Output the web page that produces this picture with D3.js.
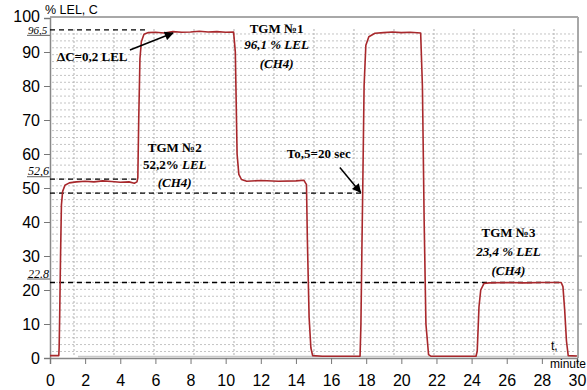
<!DOCTYPE html>
<html><head><meta charset="utf-8">
<script src="https://cdn.jsdelivr.net/npm/d3@7"></script>
<style>body{margin:0;background:#fff}svg{display:block}</style>
</head><body>
<svg id="c" width="587" height="390"></svg>
<script>
// ---- data ----
const curveTime = [0,0.5,0.52,0.55,0.6,0.65,0.72,0.85,1.1,1.5,2,2.5,3,3.5,4,4.5,4.8,4.95,5.0,5.05,5.12,5.2,5.35,5.6,6,6.5,7,7.5,8,8.5,9,9.5,10,10.45,10.55,10.6,10.65,10.75,10.9,11.2,12,13,14,14.45,14.6,14.65,14.75,14.85,14.95,15.5,16.5,17.65,17.7,17.75,17.8,17.88,17.98,18.15,18.5,19,19.5,20,20.5,21.1,21.2,21.3,21.4,21.55,21.7,23,24.25,24.32,24.42,24.52,24.7,25,26,27,28,29.1,29.2,29.3,29.4,29.5,30];
const curveValue = [0.7,0.7,3,12,30,45,49,50.8,51.5,51.8,52,51.8,52.1,51.9,51.7,51.8,51.4,51.8,53,70,88,93,95.2,95.7,95.8,95.6,96.0,95.8,95.9,96.1,95.9,96.0,95.8,95.9,90,75,60,54,52.5,52,52.2,52,52.1,52.3,51,35,12,3,0.7,0.5,0.5,0.5,10,30,48.5,80,92,94.5,95.5,95.7,95.9,95.7,95.8,95.6,80,40,10,1,0.5,0.5,0.5,2,15,20,21.9,22.1,22.2,22.1,22.2,22.2,21,14,5,0.7,0.6];
const xTicks = [0,2,4,6,8,10,12,14,16,18,20,22,24,26,28,30];
const yTicks = [0,10,20,30,40,50,60,70,80,90,100];
const refLevels = [96.5, 52.6, 48.5, 22.2];
const refEnds = [5.5, 5.0, 17.72, 29.2];
const refLabels = ["96,5", "52,6", null, "22.8"];
const yTitle = "% LEL, C";

// ---- scales ----
const svg = d3.select("#c");
const x = d3.scaleLinear().domain([0,30]).range([50,577]);
const y = d3.scaleLinear().domain([0,100]).range([358,18]);

// grid (separate raster grid in the original, offset from the axes)
const gx = d3.range(1.366, 30, 2.277);
const gy = d3.range(95.3, 0, -2.03);
svg.append("g").selectAll("line").data(gy).join("line")
  .attr("x1", 52).attr("x2", 575).attr("y1", d=>y(d)).attr("y2", d=>y(d))
  .attr("stroke", "#c4c4c4").attr("stroke-width", 1).attr("stroke-dasharray", "2,2");
svg.append("g").selectAll("line").data(gx).join("line")
  .attr("y1", 29).attr("y2", 357).attr("x1", d=>x(d)).attr("x2", d=>x(d))
  .attr("stroke", "#b0b0b0").attr("stroke-width", 1).attr("stroke-dasharray", "2,2");
svg.append("line").attr("x1", 78).attr("x2", 576).attr("y1", 356.5).attr("y2", 356.5)
  .attr("stroke", "#c8c8c8").attr("stroke-width", 1.5);

// frame
svg.append("line").attr("x1", x(0)).attr("x2", x(30)+1).attr("y1", y(100)-1).attr("y2", y(100)-1)
  .attr("stroke", "#a8a8a8").attr("stroke-width", 2);
svg.append("line").attr("x1", x(30)+1).attr("x2", x(30)+1).attr("y1", y(100)-1).attr("y2", y(0))
  .attr("stroke", "#a8a8a8").attr("stroke-width", 2);
svg.append("g").selectAll("line").data(yTicks.slice(1,-1)).join("line")
  .attr("x1", x(30)+1).attr("x2", x(30)+5).attr("y1", d=>y(d)).attr("y2", d=>y(d))
  .attr("stroke", "#999");

// axes
const yAxis = d3.axisLeft(y).tickValues(yTicks).tickSize(6).tickPadding(4);
const gY = svg.append("g").attr("transform", `translate(${x(0)},0)`).call(yAxis);
gY.select(".domain").attr("stroke", "#888").attr("stroke-width", 1.5);
gY.selectAll(".tick line").attr("stroke", "#777");
gY.selectAll("text").attr("font-family", "'Liberation Sans', Arial, sans-serif").attr("font-size", 16).attr("fill", "#000");
gY.selectAll(".tick").filter(d => d === 100).select("text").attr("dy", "0.2em");

const xAxis = d3.axisBottom(x).tickValues(xTicks).tickSize(6).tickPadding(11);
const gX = svg.append("g").attr("transform", `translate(0,${y(0)})`).call(xAxis);
gX.select(".domain").attr("stroke", "#888").attr("stroke-width", 1.5);
gX.selectAll(".tick line").attr("stroke", "#777");
gX.selectAll("text").attr("font-family", "'Liberation Sans', Arial, sans-serif").attr("font-size", 16).attr("fill", "#000");

// reference dashed lines
const labelShift = [4, -4, 0, -5];
refLevels.forEach((v,i) => {
  svg.append("line").attr("x1", x(0)).attr("x2", x(refEnds[i]))
    .attr("y1", y(v)).attr("y2", y(v))
    .attr("stroke", "#000").attr("stroke-width", 1.4).attr("stroke-dasharray", "5,4");
  if (refLabels[i]) {
    svg.append("text").attr("x", 28).attr("y", y(v)+labelShift[i])
      .attr("font-family", "'Liberation Serif', 'Times New Roman', serif")
      .attr("font-style", "italic").attr("font-size", i === 0 ? 11 : 12).text(refLabels[i]);
    svg.append("line").attr("x1", 27).attr("x2", x(0)).attr("y1", y(v)+labelShift[i]+1.5).attr("y2", y(v)+labelShift[i]+1.5)
      .attr("stroke", "#777").attr("stroke-width", 1.2);
  }
});

// curve
const line = d3.line().x((d,i)=>x(curveTime[i])).y(d=>y(d));
svg.append("path").datum(curveValue).attr("d", line)
  .attr("fill", "none").attr("stroke", "#a8282c").attr("stroke-width", 1.6).attr("stroke-linejoin", "round");

// labels
svg.append("text").attr("x", 45).attr("y", 14)
  .attr("font-family", "'Liberation Sans', Arial, sans-serif").attr("font-size", 12.5).text(yTitle);
svg.append("text").attr("x", 551).attr("y", 350)
  .attr("font-family", "'Liberation Sans', Arial, sans-serif").attr("font-size", 12).text("t,");
svg.append("text").attr("x", 550).attr("y", 368)
  .attr("font-family", "'Liberation Sans', Arial, sans-serif").attr("font-size", 12).text("minute");

// arrow marker
svg.append("defs").append("marker").attr("id", "ah").attr("viewBox", "0 0 10 10")
  .attr("refX", 9).attr("refY", 5).attr("markerWidth", 12).attr("markerHeight", 9)
  .attr("markerUnits", "userSpaceOnUse").attr("orient", "auto")
  .append("path").attr("d", "M0,0 L10,5 L0,10 z").attr("fill", "#000");

const serif = "'Liberation Serif', 'Times New Roman', serif";
function txt(cx, by, s, opts={}) {
  const t = svg.append("text").attr("x", x(cx)).attr("y", y(by))
    .attr("font-family", serif).attr("font-weight", "bold").attr("font-size", 13)
    .attr("text-anchor", opts.anchor || "middle");
  if (opts.italic) t.attr("font-style", "italic");
  return t.text(s);
}
// ΔC
txt(0.4, 87.5, "ΔC=0,2 LEL", {anchor: "start"});
svg.append("line").attr("x1", x(4.55)).attr("y1", y(90.6)).attr("x2", x(7.0)).attr("y2", y(95.6))
  .attr("stroke", "#000").attr("stroke-width", 1.5).attr("marker-end", "url(#ah)");
// TGM 1
txt(12.9, 95.6, "TGM №1");
txt(12.9, 90.9, "96,1 % LEL", {italic: true});
txt(12.9, 85.3, "(CH4)", {italic: true});
// TGM 2
txt(7.1, 60.6, "TGM №2");
const t2 = svg.append("text").attr("x", x(7.1)).attr("y", y(55.6)).attr("text-anchor", "middle")
  .attr("font-family", serif).attr("font-weight", "bold").attr("font-size", 13);
t2.append("tspan").text("52,2% ");
t2.append("tspan").attr("font-style", "italic").text("LEL");
txt(7.1, 50.3, "(CH4)", {italic: true});
// T0.5
txt(15.3, 58.8, "To,5=20 sec");
svg.append("line").attr("x1", x(16.5)).attr("y1", y(56)).attr("x2", x(17.68)).attr("y2", y(48.7))
  .attr("stroke", "#000").attr("stroke-width", 1.5).attr("marker-end", "url(#ah)");
// TGM 3
txt(26.1, 35.6, "TGM №3");
txt(26.1, 29.9, "23,4 % LEL", {italic: true});
txt(26.1, 24.4, "(CH4)", {italic: true});
</script>
</body></html>
